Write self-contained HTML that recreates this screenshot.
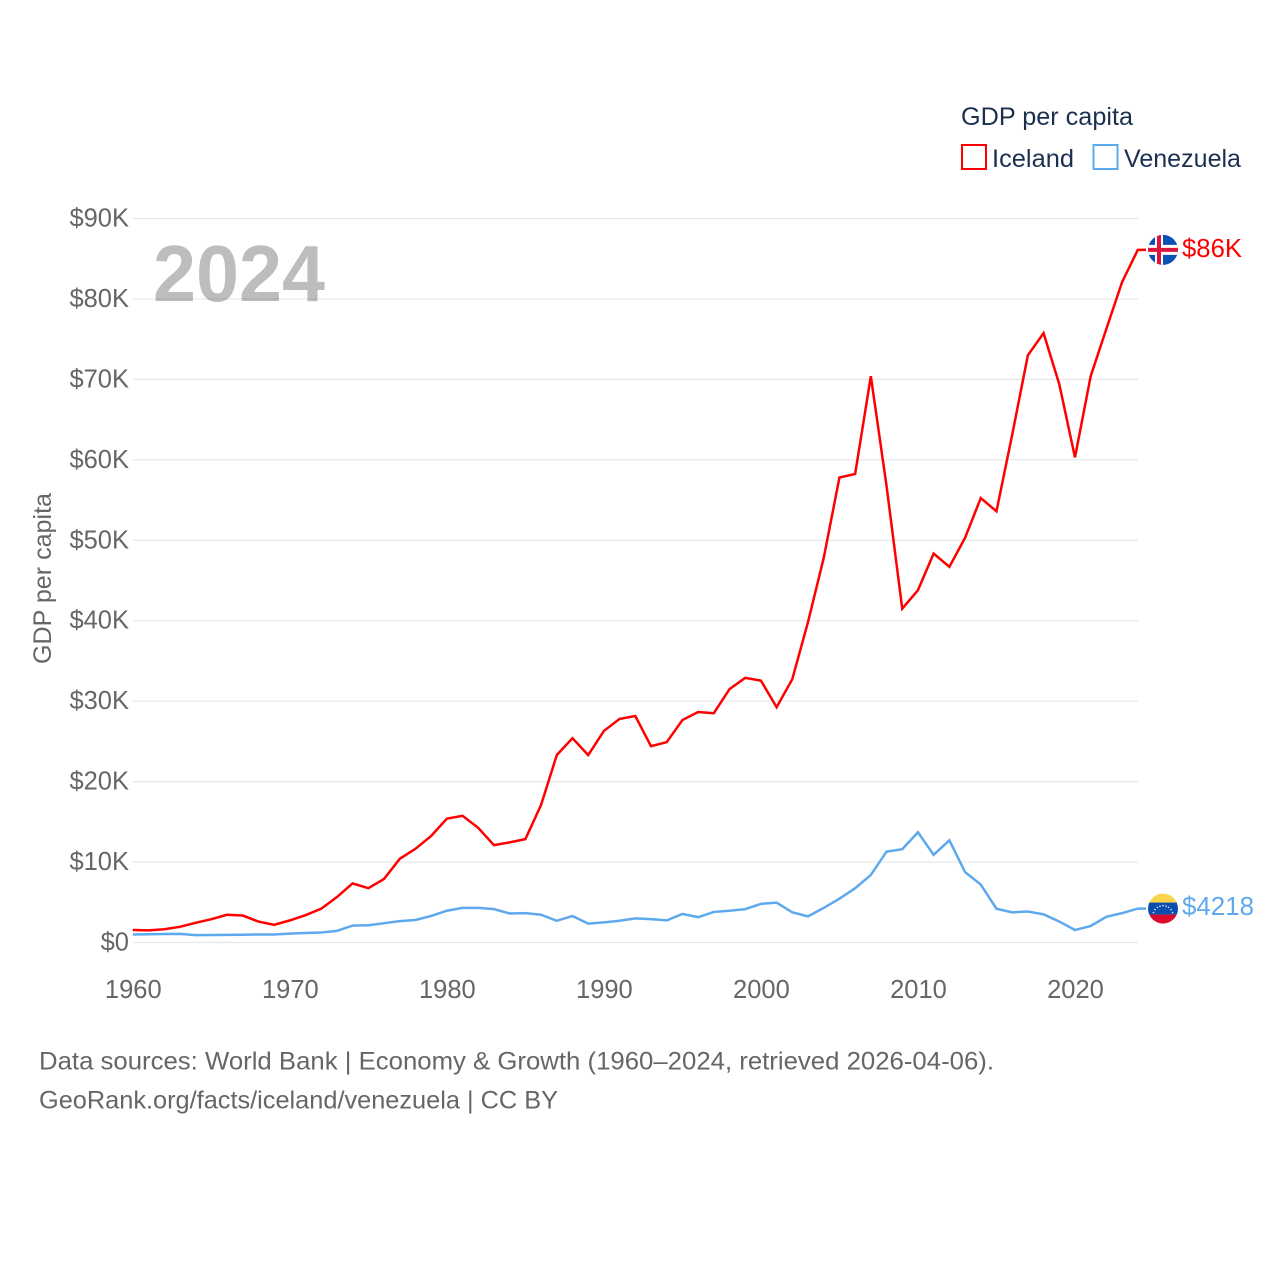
<!DOCTYPE html>
<html lang="en">
<head>
<meta charset="utf-8">
<title>GDP per capita: Iceland and Venezuela</title>
<style>
html,body{margin:0;padding:0;background:#fff;width:1280px;height:1280px;overflow:hidden}
svg{display:block}
text{font-family:"Liberation Sans",sans-serif}
</style>
</head>
<body>
<svg id="chart" xmlns="http://www.w3.org/2000/svg" width="1280" height="1280" viewBox="0 0 1280 1280">
  <defs>
    <clipPath id="flag-clip"><circle cx="0" cy="0" r="15"/></clipPath>
  </defs>
  <g id="grid"></g>
  <g id="y-ticks"></g>
  <g id="x-ticks"></g>
  <text x="153" y="301" font-size="80" font-weight="700" fill="#000000" fill-opacity="0.26" textLength="172" lengthAdjust="spacingAndGlyphs">2024</text>
  <text transform="translate(51,664) rotate(-90)" font-size="25" fill="#666666" textLength="171" lengthAdjust="spacingAndGlyphs">GDP per capita</text>
  <g id="series"></g>

  <g id="flag-iceland">
    <g clip-path="url(#flag-clip)">
      <rect x="-16" y="-16" width="32" height="32" fill="#0a52b5"/>
      <rect x="-8" y="-16" width="8" height="32" fill="#fff"/>
      <rect x="-16" y="-5" width="32" height="10" fill="#fff"/>
      <rect x="-6" y="-16" width="4" height="32" fill="#dc143c"/>
      <rect x="-16" y="-2" width="32" height="4" fill="#dc143c"/>
    </g>
  </g>
  <g id="flag-venezuela">
    <g clip-path="url(#flag-clip)">
      <rect x="-16" y="-16" width="32" height="10" fill="#fcd449"/>
      <rect x="-16" y="-6" width="32" height="12" fill="#0a4fb0"/>
      <rect x="-16" y="6" width="32" height="10" fill="#dc0a2d"/>
      <g fill="#fff" opacity="0.85">
        <circle cx="-9.500" cy="4" r="0.8"/><circle cx="-8" cy="1" r="0.8"/><circle cx="-5.500" cy="-1.200" r="0.8"/><circle cx="-3" cy="-2.500" r="0.8"/><circle cx="0" cy="-3" r="0.8"/><circle cx="3" cy="-2.500" r="0.8"/><circle cx="5.500" cy="-1.200" r="0.8"/><circle cx="8" cy="1" r="0.8"/><circle cx="9.500" cy="4" r="0.8"/>
      </g>
    </g>
  </g>
  <text id="label-iceland" x="1182" font-size="25.5" fill="#ff0000" textLength="60" lengthAdjust="spacingAndGlyphs"></text>
  <text id="label-venezuela" x="1182" font-size="25.5" fill="#5ea9ee" textLength="72" lengthAdjust="spacingAndGlyphs"></text>

  <g>
    <text x="961" y="125" font-size="25" fill="#1b3050" textLength="172" lengthAdjust="spacingAndGlyphs">GDP per capita</text>
    <g>
      <rect x="962" y="145" width="24" height="24" fill="none" stroke="#ff0000" stroke-width="2"/>
      <text x="992" y="167" font-size="25" fill="#1b3050" textLength="82" lengthAdjust="spacingAndGlyphs">Iceland</text>
    </g>
    <g>
      <rect x="1093.500" y="145" width="24" height="24" fill="none" stroke="#5ea9ee" stroke-width="2"/>
      <text x="1124" y="167" font-size="25" fill="#1b3050" textLength="117" lengthAdjust="spacingAndGlyphs">Venezuela</text>
    </g>
  </g>

  <g>
    <text x="39" y="1069.500" font-size="25" fill="#666666" textLength="955" lengthAdjust="spacingAndGlyphs">Data sources: World Bank | Economy &amp; Growth (1960–2024, retrieved 2026-04-06).</text>
    <text x="39" y="1108.500" font-size="25" fill="#666666" textLength="519" lengthAdjust="spacingAndGlyphs">GeoRank.org/facts/iceland/venezuela | CC BY</text>
  </g>
</svg>
<script>
const firstYear = 1960;
const icelandGdpK = [1.55,1.5,1.65,1.95,2.45,2.9,3.45,3.35,2.6,2.2,2.75,3.4,4.2,5.65,7.35,6.75,7.9,10.4,11.65,13.25,15.4,15.75,14.25,12.1,12.45,12.85,17.1,23.3,25.4,23.3,26.3,27.8,28.15,24.4,24.9,27.65,28.65,28.5,31.5,32.9,32.55,29.25,32.75,39.85,47.8,57.8,58.25,70.4,56.75,41.5,43.8,48.35,46.7,50.3,55.25,53.6,63.1,73.0,75.75,69.4,60.3,70.4,76.3,82.1,86.1];
const venezuelaGdpK = [1.0,1.02,1.05,1.07,0.92,0.93,0.95,0.97,1.0,1.0,1.1,1.18,1.25,1.45,2.1,2.15,2.4,2.65,2.8,3.3,3.95,4.3,4.3,4.15,3.6,3.65,3.45,2.7,3.3,2.35,2.5,2.7,3.0,2.9,2.75,3.55,3.15,3.8,3.95,4.15,4.8,4.95,3.75,3.25,4.3,5.45,6.75,8.4,11.3,11.6,13.7,10.9,12.7,8.75,7.2,4.2,3.75,3.85,3.5,2.6,1.55,2.05,3.2,3.65,4.218];
const yTickValues = [0,10,20,30,40,50,60,70,80,90];
const yTickLabels = ["$0","$10K","$20K","$30K","$40K","$50K","$60K","$70K","$80K","$90K"];
const xTickYears = [1960,1970,1980,1990,2000,2010,2020];
const endLabels = ["$86K","$4218"];

const svgNS = "http://www.w3.org/2000/svg";
function xScale(year){ return 132.8 + (year - 1960) * 15.703; }
function yScale(valueK){ return 942.5 - valueK * 8.0444; }
function make(tag){ return document.createElementNS(svgNS, tag); }

const grid = document.getElementById("grid");
const yTicks = document.getElementById("y-ticks");
yTickValues.forEach(function(v, i){
  const line = make("line");
  
  
  line.setAttribute("x1", 133);
  line.setAttribute("x2", 1138);
  line.setAttribute("y1", yScale(v));
  line.setAttribute("y2", yScale(v));
  line.setAttribute("stroke", "#e6e6e6");
  line.setAttribute("stroke-width", "1.2");
  grid.appendChild(line);

  const t = make("text");
  
  
  t.setAttribute("x", 129);
  t.setAttribute("y", yScale(v) + 8);
  t.setAttribute("text-anchor", "end");
  t.setAttribute("font-size", "25.5");
  t.setAttribute("fill", "#666666");
  t.textContent = yTickLabels[i];
  yTicks.appendChild(t);
});

const xTicks = document.getElementById("x-ticks");
xTickYears.forEach(function(y){
  const t = make("text");
  
  
  t.setAttribute("x", xScale(y) + 0.5);
  t.setAttribute("y", 998);
  t.setAttribute("text-anchor", "middle");
  t.setAttribute("font-size", "25.5");
  t.setAttribute("fill", "#666666");
  t.textContent = String(y);
  xTicks.appendChild(t);
});

function buildPath(values){
  let d = "";
  values.forEach(function(v, i){
    d += (i ? "L" : "M") + xScale(firstYear + i).toFixed(2) + " " + yScale(v).toFixed(2);
  });
  const last = yScale(values[values.length - 1]).toFixed(2);
  return d + "L1146 " + last;
}

const series = document.getElementById("series");
const venezuelaLine = make("path");


venezuelaLine.setAttribute("d", buildPath(venezuelaGdpK));
venezuelaLine.setAttribute("fill", "none");
venezuelaLine.setAttribute("stroke", "#5ea9ee");
venezuelaLine.setAttribute("stroke-width", "2.5");
series.appendChild(venezuelaLine);

const icelandLine = make("path");


icelandLine.setAttribute("d", buildPath(icelandGdpK));
icelandLine.setAttribute("fill", "none");
icelandLine.setAttribute("stroke", "#ff0000");
icelandLine.setAttribute("stroke-width", "2.5");
series.appendChild(icelandLine);

const iceY = yScale(icelandGdpK[icelandGdpK.length - 1]);
const venY = yScale(venezuelaGdpK[venezuelaGdpK.length - 1]);
document.getElementById("flag-iceland").setAttribute("transform", "translate(1163," + iceY + ")");
document.getElementById("flag-venezuela").setAttribute("transform", "translate(1163," + venY + ")");
const labelIce = document.getElementById("label-iceland");
labelIce.setAttribute("y", iceY + 7);
labelIce.textContent = endLabels[0];
const labelVen = document.getElementById("label-venezuela");
labelVen.setAttribute("y", venY + 6.5);
labelVen.textContent = endLabels[1];
</script>
</body>
</html>
